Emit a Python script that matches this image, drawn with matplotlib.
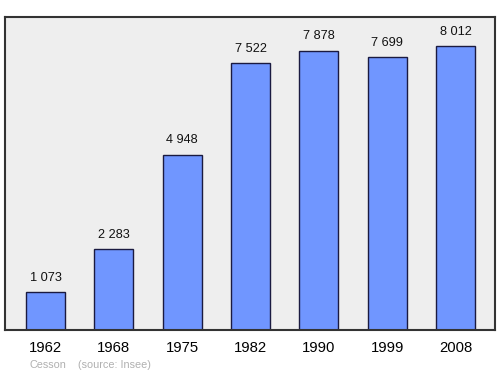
import numpy as np
import matplotlib
matplotlib.use('Agg')
import matplotlib.pyplot as plt

plt.rcParams['font.family'] = ['Liberation Sans', 'DejaVu Sans']

years = ['1962', '1968', '1975', '1982', '1990', '1999', '2008']
population = [1073, 2283, 4948, 7522, 7878, 7699, 8012]
labels = ['1 073', '2 283', '4 948', '7 522', '7 878', '7 699', '8 012']

fig = plt.figure(figsize=(5, 3.74), dpi=100)
ax = fig.add_axes([0.01, 0.1176, 0.98, 0.837])
ax.set_facecolor('#eeeeee')

x = np.arange(len(years))
bars = ax.bar(x, population, width=0.57, color='#7096ff', edgecolor='#1a1a40', linewidth=1)
for b, lab in zip(bars, labels):
    ax.annotate(lab, (b.get_x() + b.get_width() / 2, b.get_height()),
                xytext=(0, 6), textcoords='offset points',
                ha='center', va='bottom', fontsize=9.2, color='#111111')

ax.set_xlim(-0.593, 6.578)
ax.set_ylim(0, 8830)
ax.set_yticks([])
ax.set_xticks(x)
ax.set_xticklabels(years, fontsize=10.7)
ax.tick_params(axis='x', length=0, pad=8)
for s in ax.spines.values():
    s.set_color('#333333')
    s.set_linewidth(1.5)

fig.text(0.06, 0.015, 'Cesson', fontsize=7.8, color='#b0b0b0')
fig.text(0.156, 0.015, '(source: Insee)', fontsize=7.8, color='#b0b0b0')

fig.savefig('out.png', dpi=100)
